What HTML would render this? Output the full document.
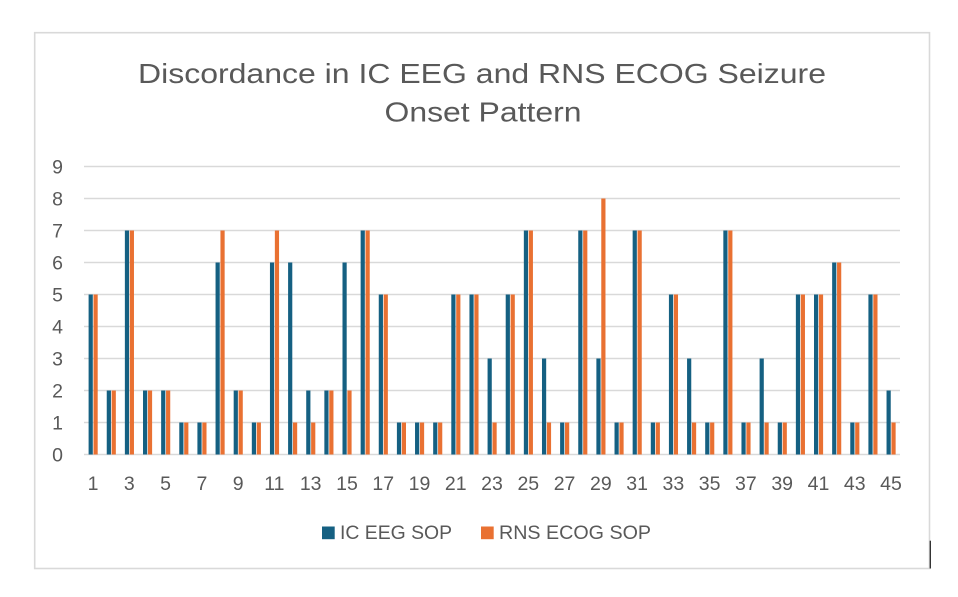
<!DOCTYPE html>
<html><head><meta charset="utf-8"><style>
html,body{margin:0;padding:0;background:#fff;}
svg{display:block;}
text{font-family:"Liberation Sans",Arial,sans-serif;fill:#595959;}
</style></head><body>
<svg width="958" height="597" viewBox="0 0 958 597" xmlns="http://www.w3.org/2000/svg">
<rect x="0" y="0" width="958" height="597" fill="#fff"/>
<rect x="34.7" y="32.7" width="894.8" height="535.8" fill="none" stroke="#d9d9d9" stroke-width="1.6"/>
<line x1="930.3" y1="540.7" x2="930.3" y2="568.5" stroke="#2a2a2a" stroke-width="1.3"/>
<text x="482" y="83" font-size="28" text-anchor="middle" textLength="688" lengthAdjust="spacingAndGlyphs">Discordance in IC EEG and RNS ECOG Seizure</text>
<text x="483" y="121.5" font-size="28" text-anchor="middle" textLength="197" lengthAdjust="spacingAndGlyphs">Onset Pattern</text>
<g stroke="#d9d9d9" stroke-width="1.5">
<line x1="84" x2="900" y1="454.5" y2="454.5"/>
<line x1="84" x2="900" y1="422.5" y2="422.5"/>
<line x1="84" x2="900" y1="390.5" y2="390.5"/>
<line x1="84" x2="900" y1="358.5" y2="358.5"/>
<line x1="84" x2="900" y1="326.5" y2="326.5"/>
<line x1="84" x2="900" y1="294.5" y2="294.5"/>
<line x1="84" x2="900" y1="262.5" y2="262.5"/>
<line x1="84" x2="900" y1="230.5" y2="230.5"/>
<line x1="84" x2="900" y1="198.5" y2="198.5"/>
<line x1="84" x2="900" y1="166.5" y2="166.5"/>
</g>
<g font-size="19.5" text-anchor="end">
<text x="63" y="461.5">0</text>
<text x="63" y="429.5">1</text>
<text x="63" y="397.5">2</text>
<text x="63" y="365.5">3</text>
<text x="63" y="333.5">4</text>
<text x="63" y="301.5">5</text>
<text x="63" y="269.5">6</text>
<text x="63" y="237.5">7</text>
<text x="63" y="205.5">8</text>
<text x="63" y="173.5">9</text>
</g>
<g fill="#156082">
<rect x="88.60" y="294.5" width="4.2" height="160"/>
<rect x="106.74" y="390.5" width="4.2" height="64"/>
<rect x="124.87" y="230.5" width="4.2" height="224"/>
<rect x="143.01" y="390.5" width="4.2" height="64"/>
<rect x="161.14" y="390.5" width="4.2" height="64"/>
<rect x="179.28" y="422.5" width="4.2" height="32"/>
<rect x="197.41" y="422.5" width="4.2" height="32"/>
<rect x="215.55" y="262.5" width="4.2" height="192"/>
<rect x="233.68" y="390.5" width="4.2" height="64"/>
<rect x="251.82" y="422.5" width="4.2" height="32"/>
<rect x="269.95" y="262.5" width="4.2" height="192"/>
<rect x="288.09" y="262.5" width="4.2" height="192"/>
<rect x="306.22" y="390.5" width="4.2" height="64"/>
<rect x="324.36" y="390.5" width="4.2" height="64"/>
<rect x="342.49" y="262.5" width="4.2" height="192"/>
<rect x="360.63" y="230.5" width="4.2" height="224"/>
<rect x="378.76" y="294.5" width="4.2" height="160"/>
<rect x="396.90" y="422.5" width="4.2" height="32"/>
<rect x="415.03" y="422.5" width="4.2" height="32"/>
<rect x="433.17" y="422.5" width="4.2" height="32"/>
<rect x="451.30" y="294.5" width="4.2" height="160"/>
<rect x="469.44" y="294.5" width="4.2" height="160"/>
<rect x="487.57" y="358.5" width="4.2" height="96"/>
<rect x="505.71" y="294.5" width="4.2" height="160"/>
<rect x="523.84" y="230.5" width="4.2" height="224"/>
<rect x="541.98" y="358.5" width="4.2" height="96"/>
<rect x="560.11" y="422.5" width="4.2" height="32"/>
<rect x="578.25" y="230.5" width="4.2" height="224"/>
<rect x="596.38" y="358.5" width="4.2" height="96"/>
<rect x="614.52" y="422.5" width="4.2" height="32"/>
<rect x="632.65" y="230.5" width="4.2" height="224"/>
<rect x="650.79" y="422.5" width="4.2" height="32"/>
<rect x="668.92" y="294.5" width="4.2" height="160"/>
<rect x="687.06" y="358.5" width="4.2" height="96"/>
<rect x="705.19" y="422.5" width="4.2" height="32"/>
<rect x="723.33" y="230.5" width="4.2" height="224"/>
<rect x="741.46" y="422.5" width="4.2" height="32"/>
<rect x="759.60" y="358.5" width="4.2" height="96"/>
<rect x="777.73" y="422.5" width="4.2" height="32"/>
<rect x="795.87" y="294.5" width="4.2" height="160"/>
<rect x="814.00" y="294.5" width="4.2" height="160"/>
<rect x="832.14" y="262.5" width="4.2" height="192"/>
<rect x="850.27" y="422.5" width="4.2" height="32"/>
<rect x="868.41" y="294.5" width="4.2" height="160"/>
<rect x="886.54" y="390.5" width="4.2" height="64"/>
</g>
<g fill="#E97132">
<rect x="93.50" y="294.5" width="4.2" height="160"/>
<rect x="111.64" y="390.5" width="4.2" height="64"/>
<rect x="129.77" y="230.5" width="4.2" height="224"/>
<rect x="147.91" y="390.5" width="4.2" height="64"/>
<rect x="166.04" y="390.5" width="4.2" height="64"/>
<rect x="184.18" y="422.5" width="4.2" height="32"/>
<rect x="202.31" y="422.5" width="4.2" height="32"/>
<rect x="220.45" y="230.5" width="4.2" height="224"/>
<rect x="238.58" y="390.5" width="4.2" height="64"/>
<rect x="256.72" y="422.5" width="4.2" height="32"/>
<rect x="274.85" y="230.5" width="4.2" height="224"/>
<rect x="292.99" y="422.5" width="4.2" height="32"/>
<rect x="311.12" y="422.5" width="4.2" height="32"/>
<rect x="329.26" y="390.5" width="4.2" height="64"/>
<rect x="347.39" y="390.5" width="4.2" height="64"/>
<rect x="365.53" y="230.5" width="4.2" height="224"/>
<rect x="383.66" y="294.5" width="4.2" height="160"/>
<rect x="401.80" y="422.5" width="4.2" height="32"/>
<rect x="419.93" y="422.5" width="4.2" height="32"/>
<rect x="438.07" y="422.5" width="4.2" height="32"/>
<rect x="456.20" y="294.5" width="4.2" height="160"/>
<rect x="474.34" y="294.5" width="4.2" height="160"/>
<rect x="492.47" y="422.5" width="4.2" height="32"/>
<rect x="510.61" y="294.5" width="4.2" height="160"/>
<rect x="528.74" y="230.5" width="4.2" height="224"/>
<rect x="546.88" y="422.5" width="4.2" height="32"/>
<rect x="565.01" y="422.5" width="4.2" height="32"/>
<rect x="583.15" y="230.5" width="4.2" height="224"/>
<rect x="601.28" y="198.5" width="4.2" height="256"/>
<rect x="619.42" y="422.5" width="4.2" height="32"/>
<rect x="637.55" y="230.5" width="4.2" height="224"/>
<rect x="655.69" y="422.5" width="4.2" height="32"/>
<rect x="673.82" y="294.5" width="4.2" height="160"/>
<rect x="691.96" y="422.5" width="4.2" height="32"/>
<rect x="710.09" y="422.5" width="4.2" height="32"/>
<rect x="728.23" y="230.5" width="4.2" height="224"/>
<rect x="746.36" y="422.5" width="4.2" height="32"/>
<rect x="764.50" y="422.5" width="4.2" height="32"/>
<rect x="782.63" y="422.5" width="4.2" height="32"/>
<rect x="800.77" y="294.5" width="4.2" height="160"/>
<rect x="818.90" y="294.5" width="4.2" height="160"/>
<rect x="837.04" y="262.5" width="4.2" height="192"/>
<rect x="855.17" y="422.5" width="4.2" height="32"/>
<rect x="873.31" y="294.5" width="4.2" height="160"/>
<rect x="891.44" y="422.5" width="4.2" height="32"/>
</g>
<g font-size="19.5" text-anchor="middle">
<text x="93.07" y="490">1</text>
<text x="129.34" y="490">3</text>
<text x="165.61" y="490">5</text>
<text x="201.88" y="490">7</text>
<text x="238.14" y="490">9</text>
<text x="274.41" y="490">11</text>
<text x="310.68" y="490">13</text>
<text x="346.95" y="490">15</text>
<text x="383.22" y="490">17</text>
<text x="419.49" y="490">19</text>
<text x="455.76" y="490">21</text>
<text x="492.03" y="490">23</text>
<text x="528.30" y="490">25</text>
<text x="564.57" y="490">27</text>
<text x="600.84" y="490">29</text>
<text x="637.11" y="490">31</text>
<text x="673.38" y="490">33</text>
<text x="709.64" y="490">35</text>
<text x="745.91" y="490">37</text>
<text x="782.18" y="490">39</text>
<text x="818.45" y="490">41</text>
<text x="854.72" y="490">43</text>
<text x="890.99" y="490">45</text>
</g>
<rect x="322" y="526.5" width="12.7" height="12.7" fill="#156082"/>
<text x="340" y="539" font-size="19" textLength="112" lengthAdjust="spacingAndGlyphs">IC EEG SOP</text>
<rect x="481" y="526.5" width="12.7" height="12.7" fill="#E97132"/>
<text x="499" y="539" font-size="19" textLength="152" lengthAdjust="spacingAndGlyphs">RNS ECOG SOP</text>
</svg>
</body></html>
